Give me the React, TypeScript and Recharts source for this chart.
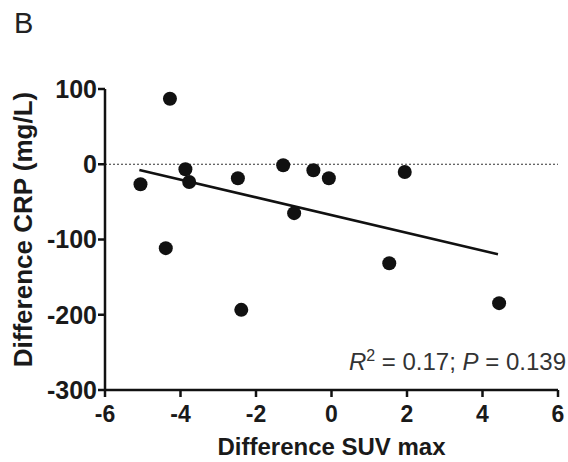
import React from "react"
import {
  ComposedChart,
  Scatter,
  XAxis,
  YAxis,
  ReferenceLine
} from "recharts"

// Difference SUV max (x) vs Difference CRP in mg/L (y)
const suvDiff = [-5.06, -4.28, -4.39, -3.87, -3.77, -2.48, -2.39, -1.28, -0.99, -0.48, -0.07, 1.53, 1.94, 4.44]
const crpDiff = [-26.6, 87, -111.5, -6.6, -23.5, -18.6, -193.5, -1.3, -65, -8, -18.6, -131.5, -10.2, -184.6]

// regression line end points
const fitX = [-5.09, 4.41]
const fitY = [-7.6, -119.5]

const xTicks = [-6, -4, -2, 0, 2, 4, 6]
const yTicks = [-300, -200, -100, 0, 100]

const points = suvDiff.map((x, i) => ({ x, y: crpDiff[i] }))

const font = "Arial, 'Liberation Sans', sans-serif"
const xTickStyle = { fontSize: 23, fontWeight: "bold", fill: "#1a1a1a", fontFamily: font }
const yTickStyle = { fontSize: 25, fontWeight: "bold", fill: "#1a1a1a", fontFamily: font }

const Dot = (p: any) => <circle cx={p.cx} cy={p.cy} r={7} fill="#111" />

const YLabel = (props: any) => {
  const vb = props.viewBox || {}
  const cx = 23
  const cy = vb.y + vb.height / 2 - 10
  return (
    <text
      x={cx}
      y={cy}
      transform={`rotate(-90, ${cx}, ${cy})`}
      textAnchor="middle"
      dominantBaseline="central"
      fontSize={26}
      fontWeight="bold"
      fontFamily={font}
      fill="#1a1a1a"
    >
      Difference CRP (mg/L)
    </text>
  )
}

export default function App() {
  return (
    <div style={{ position: "absolute", left: 0, top: 0, width: 568, height: 462, background: "#fff" }}>

      <div style={{ position: "absolute", left: 14, top: 9, fontSize: 29, lineHeight: "29px", fontFamily: font, color: "#222" }}>
        B
      </div>

      <ComposedChart
        width={568}
        height={462}
        data={points}
        margin={{ top: 89, right: 10, bottom: 0, left: 0 }}
      >

        <XAxis
          type="number"
          dataKey="x"
          domain={[-6, 6]}
          ticks={xTicks}
          height={72}
          tickSize={7}
          tickMargin={9}
          tick={xTickStyle}
          axisLine={{ stroke: "#111", strokeWidth: 2.5 }}
          tickLine={{ stroke: "#111", strokeWidth: 2.5 }}
          label={{ value: "Difference SUV max", position: "insideBottom", offset: 7, fontSize: 24, fontWeight: "bold", fill: "#1a1a1a", fontFamily: font }}
        />

        <YAxis
          type="number"
          dataKey="y"
          domain={[-300, 100]}
          ticks={yTicks}
          width={105}
          tickSize={7}
          tickMargin={1}
          tick={yTickStyle}
          axisLine={{ stroke: "#111", strokeWidth: 2.5 }}
          tickLine={{ stroke: "#111", strokeWidth: 2.5 }}
          label={<YLabel />}
        />

        <ReferenceLine y={0} stroke="#333" strokeWidth={1.2} strokeDasharray="2 2" />

        <ReferenceLine
          segment={[{ x: fitX[0], y: fitY[0] }, { x: fitX[1], y: fitY[1] }]}
          stroke="#111"
          strokeWidth={2.5}
        />

        <Scatter data={points} dataKey="y" shape={Dot} isAnimationActive={false} />

      </ComposedChart>

      <div
        style={{
          position: "absolute",
          right: 2,
          top: 350,
          fontSize: 24,
          lineHeight: "24px",
          fontFamily: font,
          color: "#333",
          whiteSpace: "nowrap"
        }}
      >
        <i>R</i><sup style={{ fontSize: 16, lineHeight: 0 }}>2</sup> = 0.17; <i>P</i> = 0.139
      </div>

    </div>
  )
}
